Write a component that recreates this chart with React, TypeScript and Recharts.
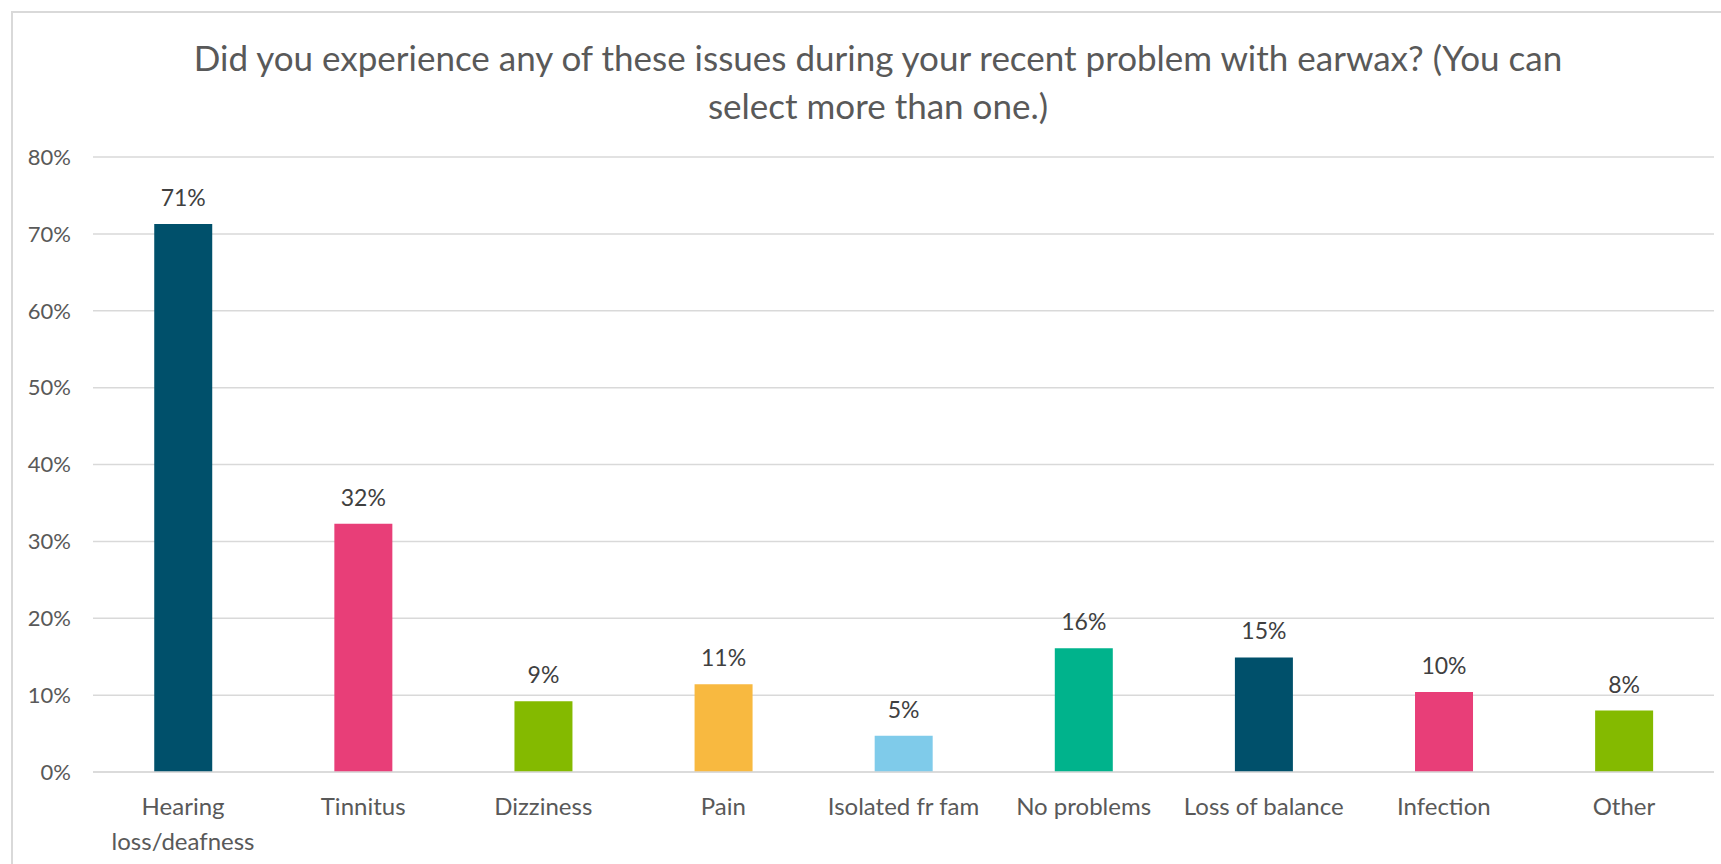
import React from 'react';
import { BarChart, Bar, XAxis, YAxis, CartesianGrid, Cell, LabelList } from 'recharts';

const categories = ['Hearing loss/deafness', 'Tinnitus', 'Dizziness', 'Pain', 'Isolated fr fam', 'No problems', 'Loss of balance', 'Infection', 'Other'];
const values = [0.713, 0.323, 0.092, 0.114, 0.047, 0.161, 0.149, 0.104, 0.080];
const barColors = ['#00506B', '#E83E78', '#84BA00', '#F8B940', '#7FCBEA', '#00B38C', '#00506B', '#E83E78', '#84BA00'];
const yTicks = [0, 0.1, 0.2, 0.3, 0.4, 0.5, 0.6, 0.7, 0.8];
const titleLines = ['Did you experience any of these issues during your recent problem with earwax? (You can', 'select more than one.)'];

const data = categories.map((c, i) => ({ name: c, value: values[i] }));

const FONT = 'Lato, "Open Sans", sans-serif';

const XTick = (props: any) => {
  const { x, y, payload } = props;
  const label: string = payload.value;
  const lines = label === 'Hearing loss/deafness' ? ['Hearing', 'loss/deafness'] : [label];
  return (
    <text x={x} y={y} textAnchor="middle" fill="#595959" fontSize={24} fontFamily={FONT}>
      {lines.map((l, i) => (
        <tspan key={i} x={x} dy={i === 0 ? 35 : 35}>{l}</tspan>
      ))}
    </text>
  );
};

export default function App() {
  return (
    <div style={{ position: 'absolute', left: 0, top: 0, width: 1721, height: 864, background: '#fff', overflow: 'hidden' }}>
      <div style={{ position: 'absolute', left: 11, top: 11, width: 1800, height: 900, borderTop: '2px solid #D9D9D9', borderLeft: '2px solid #D9D9D9' }} />
      {titleLines.map((t, i) => (
        <div key={i} style={{ position: 'absolute', left: 0, width: 1756, top: 36 + i * 48, textAlign: 'center', fontFamily: FONT, fontSize: 35, color: '#595959', lineHeight: '42px', whiteSpace: 'nowrap' }}>{t}</div>
      ))}
      <div style={{ position: 'absolute', left: 0, top: 0 }}>
        <BarChart width={1721} height={864} data={data} margin={{ top: 157, right: 7, left: 13, bottom: 32 }} barCategoryGap="34%">
          <CartesianGrid vertical={false} stroke="#D9D9D9" strokeWidth={1.5} />
          <XAxis dataKey="name" tick={<XTick />} tickLine={false} axisLine={{ stroke: '#D9D9D9', strokeWidth: 1.5 }} height={60} interval={0} />
          <YAxis domain={[0, 0.8]} ticks={yTicks} tickFormatter={(v: number) => `${Math.round(v * 100)}%`} axisLine={false} tickLine={false} width={80} tickMargin={16} tick={{ fill: '#595959', fontSize: 22, fontFamily: FONT }} />
          <Bar dataKey="value" isAnimationActive={false}>
            {data.map((d, i) => (
              <Cell key={i} fill={barColors[i]} />
            ))}
            <LabelList dataKey="value" position="top" offset={18} formatter={(v: any) => `${Math.round(Number(v) * 100)}%`} fill="#404040" fontSize={23} fontFamily={FONT} />
          </Bar>
        </BarChart>
      </div>
    </div>
  );
}
